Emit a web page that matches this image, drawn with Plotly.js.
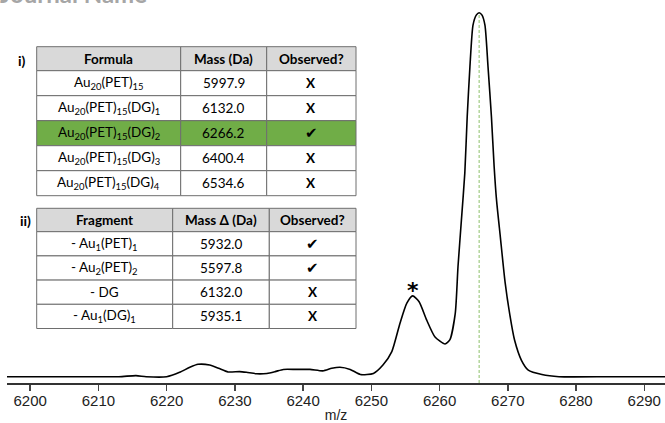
<!DOCTYPE html>
<html>
<head>
<meta charset="utf-8">
<script src="https://cdn.plot.ly/plotly-3.0.1.min.js"></script>
<style>
  html, body { margin: 0; padding: 0; background: #fff; }
  #chart { width: 665px; height: 423px; }
</style>
</head>
<body>
<div id="chart"></div>
<script>
// ---- Spectrum data ----
const mz = [6196.6, 6205, 6213, 6215.5, 6217, 6220, 6221.9, 6223.4, 6224.6, 6226.3, 6227.6, 6229.0,
  6230.7, 6231.7, 6233.2, 6234.7, 6235.9, 6237.1, 6239.0, 6241.0, 6242.9, 6244.2, 6245.4, 6246.9,
  6248.4, 6250.3, 6251.7, 6253.0, 6254.2, 6255.2, 6256.05, 6257.0, 6258.1, 6259.3, 6260.8, 6261.5,
  6262.3, 6262.7, 6263.2, 6263.7, 6264.05, 6264.45, 6264.9, 6265.4, 6265.8, 6266.2, 6266.65, 6267.1,
  6267.6, 6268.0, 6268.35, 6268.9, 6269.6, 6270.3, 6271.0, 6272.0, 6273.0, 6275.0, 6277.5, 6285, 6293.04];
const intensity = [0, 0, 0, 0.003, 0, 0, 0.012, 0.026, 0.034, 0.032, 0.023, 0.013,
  0.014, 0.012, 0.008, 0.009, 0.014, 0.020, 0.020, 0.020, 0.016, 0.023, 0.026, 0.020,
  0.006, 0.009, 0.032, 0.069, 0.147, 0.202, 0.222, 0.206, 0.156, 0.110, 0.090, 0.101,
  0.174, 0.302, 0.430, 0.560, 0.714, 0.852, 0.966, 0.994, 1.0, 0.994, 0.966, 0.852,
  0.714, 0.577, 0.485, 0.385, 0.26, 0.17, 0.10, 0.045, 0.018, 0.006, 0, 0, 0];

const xTicks = [6200, 6210, 6220, 6230, 6240, 6250, 6260, 6270, 6280, 6290];
const markedMass = [6265.8];           // green dotted line
const starPeak = [6256.05, 0.222];      // asterisk peak

// ---- Table i ----
const formulaHead = ['Formula', 'Mass (Da)', 'Observed?'];
const formulas = ['Au<sub>20</sub>(PET)<sub>15</sub>', 'Au<sub>20</sub>(PET)<sub>15</sub>(DG)<sub>1</sub>',
  'Au<sub>20</sub>(PET)<sub>15</sub>(DG)<sub>2</sub>', 'Au<sub>20</sub>(PET)<sub>15</sub>(DG)<sub>3</sub>',
  'Au<sub>20</sub>(PET)<sub>15</sub>(DG)<sub>4</sub>'];
const formulaMass = ['5997.9', '6132.0', '6266.2', '6400.4', '6534.6'];
const formulaObs = ['X', 'X', '✔', 'X', 'X'];
const formulaRowFill = ['#ffffff', '#ffffff', '#70ad47', '#ffffff', '#ffffff'];

// ---- Table ii ----
const fragHead = ['Fragment', 'Mass Δ (Da)', 'Observed?'];
const fragments = ['- Au<sub>1</sub>(PET)<sub>1</sub>', '- Au<sub>2</sub>(PET)<sub>2</sub>', '- DG', '- Au<sub>1</sub>(DG)<sub>1</sub>'];
const fragMass = ['5932.0', '5597.8', '6132.0', '5935.1'];
const fragObs = ['✔', '✔', 'X', 'X'];
const fragRowFill = ['#ffffff', '#ffffff', '#ffffff', '#ffffff'];

// ---- geometry helpers (paper fractions) ----
const W = 665, H = 423, mL = 7, mR = 0, mT = 0, mB = 40;
const pw = W - mL - mR, ph = H - mT - mB;
const px = v => (v - mL) / pw;
const py = v => (H - mB - v) / ph;

const cellFamily = 'Lato, "Open Sans", sans-serif';
const gridColor = '#6e6e6e';

const shapes = [
  {type: 'line', xref: 'x', yref: 'y', x0: markedMass[0], x1: markedMass[0], y0: -0.0173, y1: 1.0,
   line: {color: '#8cc06a', width: 1, dash: '3px,2px'}, layer: 'below'}
];
const annotations = [];

// Build a table as rectangles + text annotations from the column arrays
function buildTable(head, columns, rowFill, colWidths, left, top, headH, rowH) {
  let x = left;
  const nRows = columns[0].length;
  colWidths.forEach((w, c) => {
    shapes.push({type: 'rect', xref: 'paper', yref: 'paper', x0: px(x), x1: px(x + w),
      y0: py(top + headH), y1: py(top), fillcolor: '#d9d9d9', line: {color: gridColor, width: 1}});
    annotations.push({text: '<b>' + head[c] + '</b>', xref: 'paper', yref: 'paper',
      x: px(x + w / 2), y: py(top + headH / 2), xanchor: 'center', yanchor: 'middle', showarrow: false,
      font: {family: cellFamily, size: 13.5, color: '#000'}});
    for (let r = 0; r < nRows; r++) {
      const y0 = top + headH + r * rowH;
      shapes.push({type: 'rect', xref: 'paper', yref: 'paper', x0: px(x), x1: px(x + w),
        y0: py(y0 + rowH), y1: py(y0), fillcolor: rowFill[r], line: {color: gridColor, width: 1}});
      const obsCol = c === 2;
      const isCheck = columns[c][r] === '✔';
      annotations.push({text: (obsCol && !isCheck) ? '<b>' + columns[c][r] + '</b>' : columns[c][r],
        xref: 'paper', yref: 'paper',
        x: px(x + w / 2), y: py(y0 + rowH / 2), xanchor: 'center', yanchor: 'middle', showarrow: false,
        font: {family: isCheck ? '"DejaVu Sans", sans-serif' : cellFamily, size: isCheck ? 15 : 13.5, color: '#000'}});
    }
    x += w;
  });
}

buildTable(formulaHead, [formulas, formulaMass, formulaObs], formulaRowFill,
  [144, 86, 89.3], 36.7, 46.7, 24, 25);
buildTable(fragHead, [fragments, fragMass, fragObs], fragRowFill,
  [136, 96.6, 86.7], 36.7, 208.3, 23.4, 24.2);

annotations.push(
  {text: '<b>*</b>', xref: 'x', yref: 'y', x: starPeak[0], y: starPeak[1], yanchor: 'bottom',
   showarrow: false, yshift: -9, font: {family: '"DejaVu Sans", sans-serif', size: 22, color: '#000'}},
  {text: '<b>i)</b>', xref: 'paper', yref: 'paper', x: px(22), y: py(60), showarrow: false,
   xanchor: 'center', yanchor: 'middle', font: {family: cellFamily, size: 14, color: '#000'}},
  {text: '<b>ii)</b>', xref: 'paper', yref: 'paper', x: px(25), y: py(220), showarrow: false,
   xanchor: 'center', yanchor: 'middle', font: {family: cellFamily, size: 14, color: '#000'}},
  {text: '<b>Journal Name</b>', xref: 'paper', yref: 'paper', x: px(-2), y: 1, showarrow: false,
   xanchor: 'left', yanchor: 'bottom', yshift: -10,
   font: {family: cellFamily, size: 24, color: '#a6a6a6'}}
);

const traces = [
  {
    type: 'scatter', mode: 'lines', x: mz, y: intensity,
    line: {color: '#000', width: 1.6, shape: 'spline', smoothing: 0.6},
    hoverinfo: 'skip', showlegend: false
  }
];

const layout = {
  width: W, height: H,
  margin: {l: mL, r: mR, t: mT, b: mB},
  paper_bgcolor: '#fff', plot_bgcolor: '#fff',
  showlegend: false,
  font: {family: '"Liberation Sans", Arial, sans-serif', color: '#222'},
  xaxis: {
    range: [6196.6, 6293.04], tickmode: 'array', tickvals: xTicks,
    ticks: 'outside', ticklen: 6, tickwidth: 1.5, tickcolor: '#444',
    ticklabelstandoff: -3,
    showline: true, linecolor: '#333', linewidth: 2,
    showgrid: false, zeroline: false,
    tickfont: {size: 15, color: '#222'},
    title: {text: 'm/z', font: {size: 14, color: '#222'}, standoff: 4}
  },
  yaxis: {range: [-0.0173, 1.0349], visible: false, fixedrange: true},
  shapes: shapes,
  annotations: annotations
};

Plotly.newPlot('chart', traces, layout, {displayModeBar: false, staticPlot: true});
</script>
</body>
</html>
